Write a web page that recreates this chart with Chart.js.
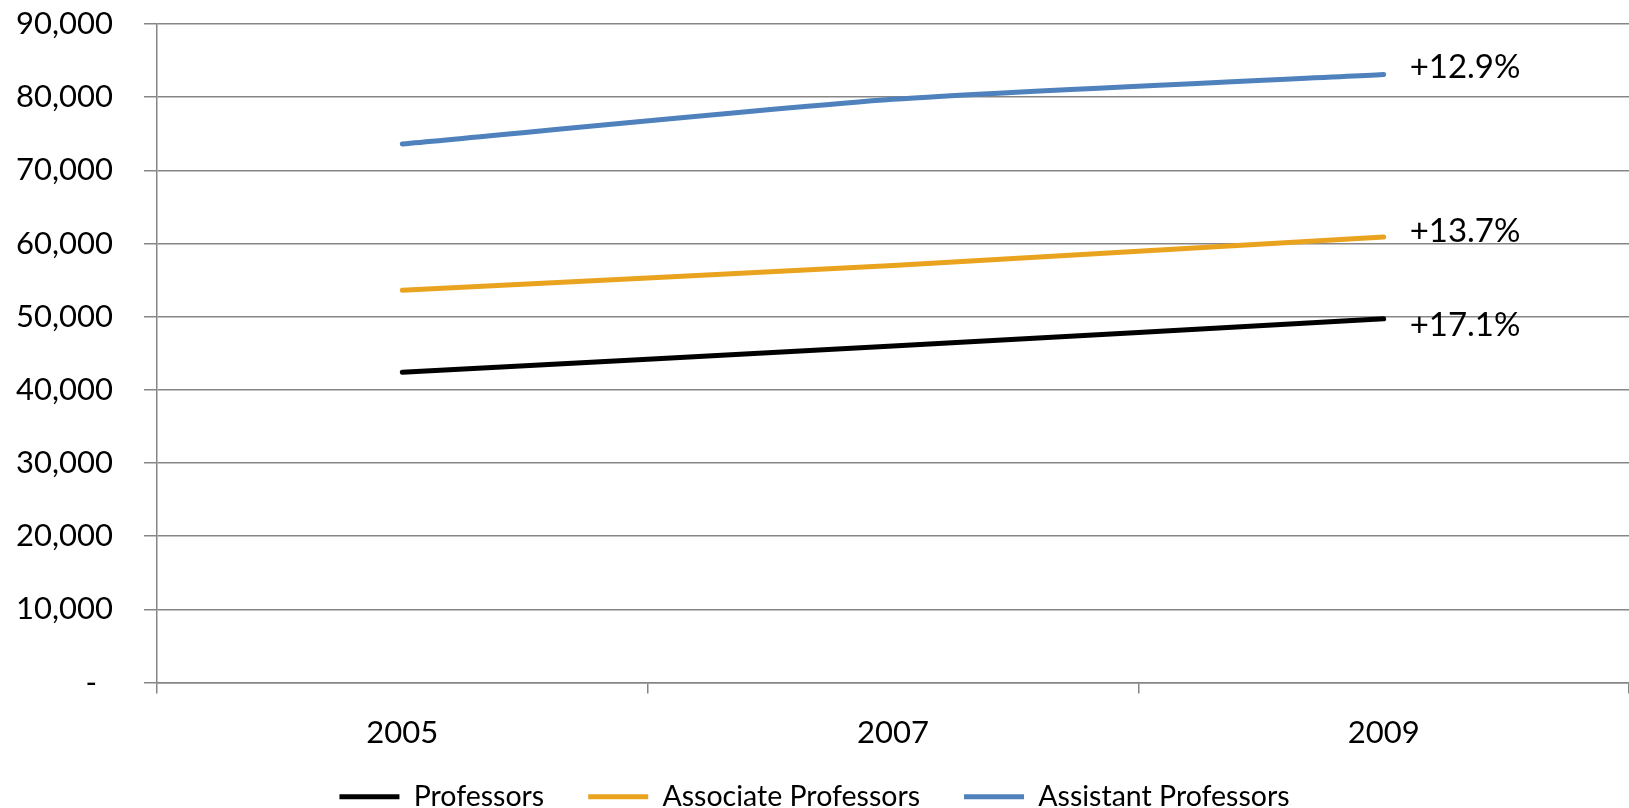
<!DOCTYPE html>
<html>
<head>
<meta charset="utf-8">
<script src="https://cdn.jsdelivr.net/npm/chart.js@4"></script>
<style>
    html, body { margin: 0; padding: 0; background: #ffffff; }
    #wrap { width: 1629px; height: 808px; position: relative; }
</style>
</head>
<body>
<div id="wrap"><canvas id="salary-chart"></canvas></div>
<script>
const years = ['2005', '2007', '2009'];
const seriesNames = ['Professors', 'Associate Professors', 'Assistant Professors'];
const professors = [42400, 46000, 49700];
const associateProfessors = [53600, 57000, 60900];
const assistantProfessors = [73600, 79700, 83100];
const growthLabels = ['+17.1%', '+13.7%', '+12.9%'];

const lineColors = ['#000000', '#E9A31F', '#4F81BD'];
const labelOffsets = [6, -6, -7];
const gridColor = '#868686';
const fontFamily = 'Lato, "Open Sans", sans-serif';

// growth % written to the right of each series' last point
const endLabels = {
    id: 'endLabels',
    afterDatasetsDraw(chart) {
        const ctx = chart.ctx;
        ctx.save();
        ctx.font = `33px ${fontFamily}`;
        ctx.fillStyle = '#000000';
        ctx.textAlign = 'left';
        ctx.textBaseline = 'middle';
        chart.data.datasets.forEach((ds, i) => {
            const pts = chart.getDatasetMeta(i).data;
            const last = pts[pts.length - 1];
            ctx.fillText(growthLabels[i], last.x + 26, last.y + labelOffsets[i]);
        });
        ctx.restore();
    }
};

// nudge the legend down and let the x labels spill past their box
const legendShift = {
    id: 'legendShift',
    afterLayout(chart) {
        if (chart.legend) {
            chart.legend.top += 13;
            chart.legend.bottom += 13;
        }
        chart.scales.x.bottom = chart.height;
    }
};

new Chart(document.getElementById('salary-chart'), {
    type: 'line',
    data: {
        labels: years,
        datasets: [professors, associateProfessors, assistantProfessors].map((values, i) => ({
            label: seriesNames[i],
            data: values,
            borderColor: lineColors[i],
            backgroundColor: lineColors[i],
            borderWidth: 5,
            pointRadius: 0,
            tension: 0.2,
            borderCapStyle: 'round'
        }))
    },
    options: {
        responsive: true,
        maintainAspectRatio: false,
        animation: false,
        layout: { padding: { top: 24, left: 0, right: 0, bottom: 0 } },
        plugins: {
            legend: {
                position: 'bottom',
                labels: {
                    color: '#000000',
                    font: { family: fontFamily, size: 28.5 },
                    usePointStyle: true,
                    pointStyle: 'line',
                    pointStyleWidth: 60,
                    padding: 44
                }
            },
            tooltip: { enabled: false }
        },
        scales: {
            x: {
                offset: true,
                grid: { offset: true, drawOnChartArea: false, drawTicks: true, tickLength: 11, color: gridColor, lineWidth: 1.5 },
                border: { color: gridColor, width: 1.5 },
                ticks: { color: '#000000', font: { family: fontFamily, size: 31 }, padding: 21 },
                afterFit: (scale) => { scale.height = 43; }
            },
            y: {
                min: 0,
                max: 90000,
                grid: { color: gridColor, lineWidth: 1.5, tickLength: 13 },
                border: { color: gridColor, width: 1.5 },
                ticks: {
                    stepSize: 10000,
                    color: '#000000',
                    font: { family: fontFamily, size: 31 },
                    padding: 31,
                    callback: (v) => v === 0 ? '-  ' : v.toLocaleString('en-US')
                },
                afterFit: (scale) => {
                    scale.width = 157;
                    scale.paddingTop = 0;
                    scale.paddingBottom = 0;
                }
            }
        }
    },
    plugins: [endLabels, legendShift]
});
</script>
</body>
</html>
